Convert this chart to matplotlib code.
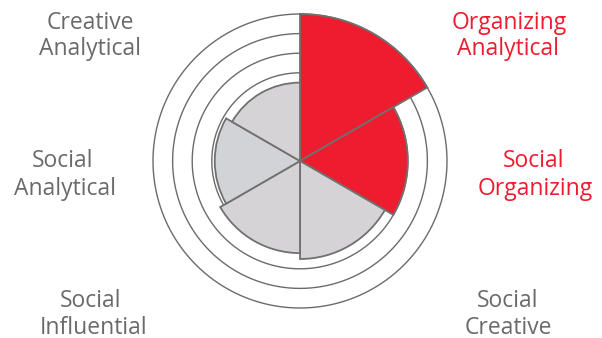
import numpy as np
import matplotlib
matplotlib.use("Agg")
import matplotlib.pyplot as plt

# ---- data ----
categories = ["Organizing Analytical", "Social Organizing", "Social Creative",
              "Social Influential", "Social Analytical", "Creative Analytical"]
values = [7.5, 5.5, 5.0, 4.7, 4.35, 4.0]
ring_levels = [4.5, 5.5, 6.5, 7.5]
highlight = [True, True, False, False, False, False]

RED = "#ED1C2E"
GRAY_TXT = "#6a6a6a"
fills = [RED, RED, "#D5D3D5", "#D5D3D5", "#D1D3D6", "#D5D3D5"]
EDGE = "#707070"

W, H = 602, 338
fig = plt.figure(figsize=(W / 100, H / 100), dpi=100)
cx, cy, R = 300, 161, 147
ax = fig.add_axes([(cx - R) / W, (H - cy - R) / H, 2 * R / W, 2 * R / H],
                  projection="polar")
ax.set_theta_zero_location("N")
ax.set_theta_direction(-1)
ax.set_ylim(0, max(ring_levels))

theta_full = np.linspace(0, 2 * np.pi, 721)
for lvl in ring_levels:
    ln, = ax.plot(theta_full, np.full_like(theta_full, lvl), color="#6b6b6b",
                  lw=1.0, zorder=1)
    ln.set_clip_on(False)

n = len(categories)
width = 2 * np.pi / n
thetas = np.arange(n) * width
bars = ax.bar(thetas, values, width=width, align="edge", color=fills,
              edgecolor=EDGE, linewidth=1.3, zorder=3)
for b in bars:
    b.set_clip_on(False)

ax.grid(False)
ax.set_xticks([])
ax.set_yticks([])
ax.spines["polar"].set_visible(False)
ax.patch.set_alpha(0)

# ---- labels (line text, center x, baseline y in px) ----
label_lines = {
    "Creative Analytical": [("Creative", 90, 29), ("Analytical", 90, 55)],
    "Organizing Analytical": [("Organizing", 509, 29), ("Analytical", 508, 55)],
    "Social Analytical": [("Social", 63, 167), ("Analytical", 65, 195)],
    "Social Organizing": [("Social", 534, 167), ("Organizing", 535, 195)],
    "Social Influential": [("Social", 91, 307), ("Influential", 94, 334)],
    "Social Creative": [("Social", 508, 307), ("Creative", 508, 334)],
}
for cat, hl in zip(categories, highlight):
    col = RED if hl else GRAY_TXT
    for txt, x, y in label_lines[cat]:
        fig.text(x / W, 1 - y / H, txt, ha="center", va="baseline",
                 fontsize=16.5, family=["Open Sans", "DejaVu Sans"], color=col)

fig.savefig("out.png", dpi=100)
